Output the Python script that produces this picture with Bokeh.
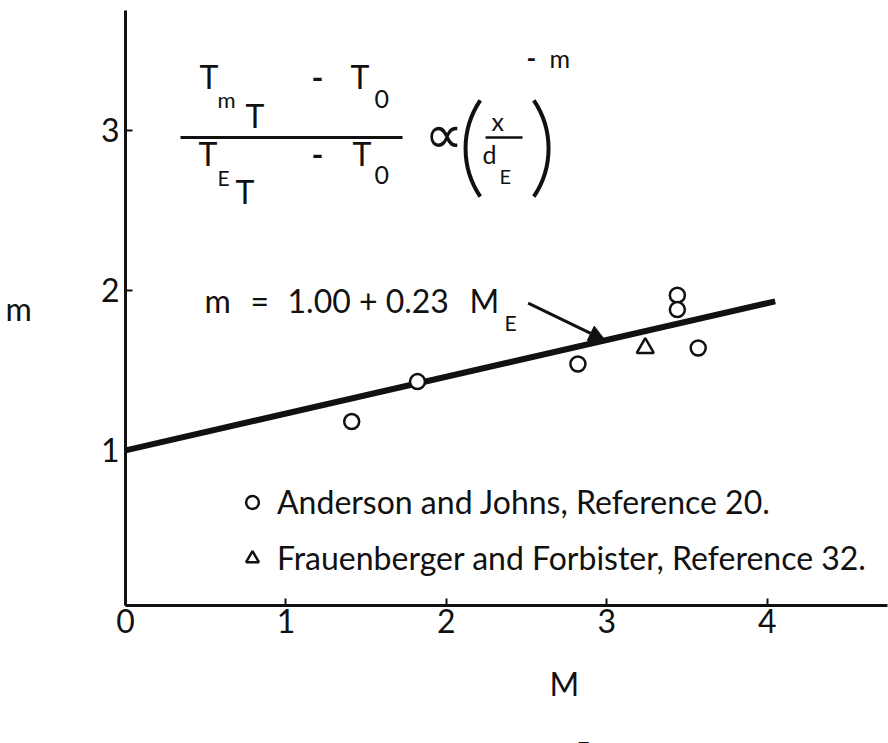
import math

from bokeh.plotting import figure
from bokeh.models import (Range1d, FixedTicker, Label, Arrow, NormalHead, Legend,
                          LegendItem, Title)
from bokeh.embed import file_html
from bokeh.resources import INLINE

# Anderson and Johns, Reference 20
aj_me = [1.41, 1.82, 2.82, 3.44, 3.44, 3.57]
aj_m = [1.18, 1.43, 1.54, 1.97, 1.88, 1.64]

# Frauenberger and Forbister, Reference 32
ff_me = [3.24]
ff_m = [1.64]

# correlation m = 1.00 + 0.23 M_E
fit_intercept = 1.00
fit_slope = 0.23
fit_me = [0.0, 4.05]
fit_m = [fit_intercept + fit_slope * v for v in fit_me]

# pointer from the correlation label to the line
arrow_from = (2.51, 1.92)
arrow_to = (2.99, fit_intercept + fit_slope * 2.99)

x_ticks = [0, 1, 2, 3, 4]
y_ticks = [1, 2, 3]

FONT = "Lato"
INK = "#111111"
BIG = 32

p = figure(width=888, height=743, output_backend="svg", toolbar_location=None,
           x_range=Range1d(0, 4.75), y_range=Range1d(0.03, 3.75),
           min_border_left=125, min_border_right=1, min_border_top=10,
           min_border_bottom=138)
p.outline_line_color = None
p.xgrid.visible = False
p.ygrid.visible = False
p.background_fill_color = "white"
p.border_fill_color = "white"

for ax, ticks in ((p.xaxis[0], x_ticks), (p.yaxis[0], y_ticks)):
    ax.ticker = FixedTicker(ticks=ticks)
    ax.minor_tick_line_color = None
    ax.major_tick_in = 7
    ax.major_tick_out = 0
    ax.major_tick_line_width = 2
    ax.major_tick_line_color = INK
    ax.axis_line_width = 3
    ax.axis_line_color = INK
    ax.major_label_text_font = FONT
    ax.major_label_text_font_size = f"{BIG}px"
    ax.major_label_text_color = INK
p.xaxis.major_label_standoff = 3
p.yaxis.major_label_standoff = 6

# y-axis title, written level
p.yaxis.axis_label = "m"
p.yaxis.axis_label_orientation = "horizontal"
p.yaxis.axis_label_standoff = 66
p.yaxis.axis_label_text_font = FONT
p.yaxis.axis_label_text_font_size = f"{BIG}px"
p.yaxis.axis_label_text_font_style = "normal"
p.yaxis.axis_label_text_color = INK

# x-axis title M with subscript E, set below the tick labels
p.add_layout(Title(text="M", align="left", offset=424, standoff=52,
                   text_font=FONT, text_font_size=f"{BIG}px",
                   text_font_style="normal", text_color=INK), "below")
sub_style = dict(text="E", align="left", offset=451, text_font=FONT,
                 text_font_size="23px", text_font_style="normal", text_color=INK)
try:
    sub_title = Title(standoff=-70, **sub_style)
except ValueError:
    sub_title = Title(standoff=0, **sub_style)
p.add_layout(sub_title, "below")


def to_data(px, py):
    """Convert a canvas pixel position into this chart's data space."""
    return (px - 125) / 160.4, (610 - py) / 160.0


def put(text, px, py, size, font=FONT, style="normal"):
    # py is the wanted baseline; lift by the renderer's descent allowance
    x, y = to_data(px, py - 0.36 * size)
    p.add_layout(Label(x=x, y=y, text=text, text_font=font,
                       text_font_size=f"{size}px", text_font_style=style,
                       text_color=INK, text_align="left",
                       text_baseline="alphabetic"))


def bar(px0, px1, py, width=3):
    x0, y0 = to_data(px0, py)
    x1, _ = to_data(px1, py)
    p.line([x0, x1], [y0, y0], line_width=width, line_color=INK)


def paren(px_center, py_center, radius, half_deg, facing_left):
    """A tall bracket drawn as a shallow circular arc."""
    x, y = to_data(px_center, py_center)
    h = math.radians(half_deg)
    if facing_left:
        start, end = math.pi - h, math.pi + h
    else:
        start, end = -h, h
    p.arc(x=[x], y=[y], radius=radius, radius_units="screen",
          start_angle=start, end_angle=end, line_width=4, line_color=INK)


# correlation line and data
p.line(fit_me, fit_m, line_width=6, line_color=INK)
r_aj = p.scatter(aj_me, aj_m, marker="circle", size=15, fill_color="white",
                 line_color=INK, line_width=2.5)
r_ff = p.scatter(ff_me, ff_m, marker="triangle", size=17, fill_color="white",
                 line_color=INK, line_width=2.5)

p.add_layout(Arrow(end=NormalHead(size=16, fill_color=INK, line_color=INK),
                   line_width=3, line_color=INK,
                   x_start=arrow_from[0], y_start=arrow_from[1],
                   x_end=arrow_to[0], y_end=arrow_to[1]))

# correlation label
put("m", 204, 312, BIG)
put("=", 250, 312, BIG)
put("1.00 + 0.23", 287, 312, BIG)
put("M", 469, 312, BIG)
put("E", 504, 330, 21)

# temperature-decay relation
put("T", 199, 88, BIG)
put("m", 217, 107, 22)
put("T", 245, 127, BIG)
put("-", 311, 88, BIG, style="bold")
put("T", 350, 88, BIG)
put("0", 374, 108, 25)
bar(180, 402, 137)
put("T", 198, 165, BIG)
put("E", 217, 185, 21)
put("T", 235, 203, BIG)
put("-", 311, 165, BIG, style="bold")
put("T", 352, 165, BIG)
put("0", 374, 184, 25)
put("\u221d", 424, 153, 54, font="DejaVu Sans")
paren(551, 148, 86, 34, True)
paren(462, 148, 86, 34, False)
put("x", 491, 130, 25)
bar(485, 522, 137, width=2.5)
put("d", 482, 163, 25)
put("E", 499, 183, 20)
put("-", 526, 67, 26, style="bold")
put("m", 549, 67, 25)

legend = Legend(items=[
    LegendItem(label="Anderson and Johns, Reference 20.", renderers=[r_aj]),
    LegendItem(label="Frauenberger and Forbister, Reference 32.", renderers=[r_ff]),
], location=(111, 28), glyph_width=32, glyph_height=32, label_standoff=9,
    spacing=17, padding=0, margin=0, border_line_color=None,
    background_fill_alpha=0, label_text_font=FONT,
    label_text_font_size=f"{BIG}px", label_text_color=INK)
p.add_layout(legend)

open("out.html", "w").write(file_html(p, INLINE))
